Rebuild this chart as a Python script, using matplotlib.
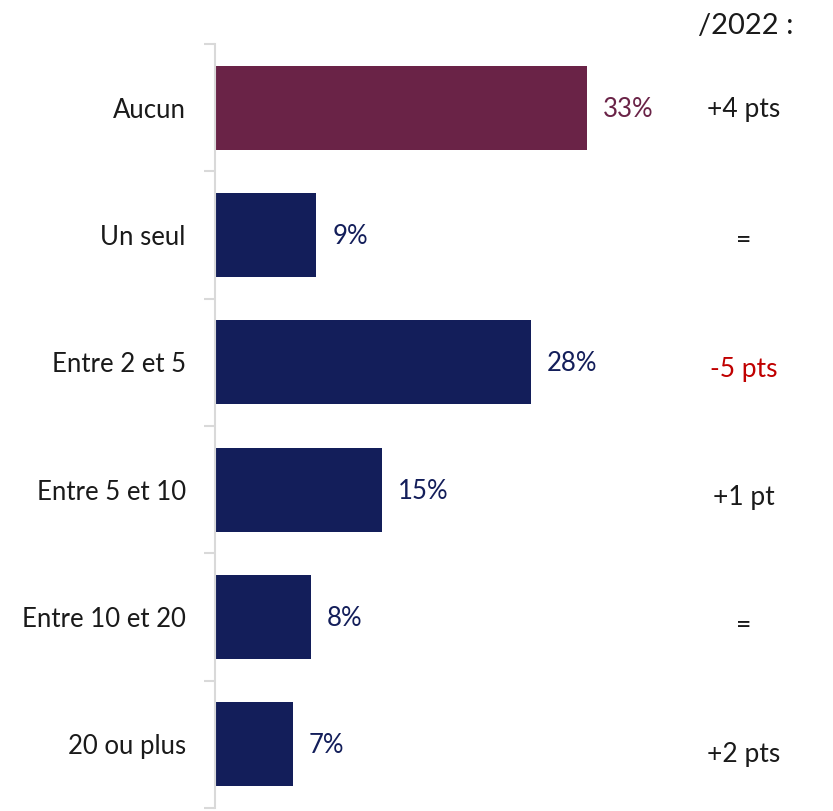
import matplotlib.pyplot as plt
from matplotlib.transforms import blended_transform_factory

categories = ["Aucun", "Un seul", "Entre 2 et 5", "Entre 5 et 10", "Entre 10 et 20", "20 ou plus"]
values = [33, 9, 28, 14.8, 8.5, 6.9]
changes = ["+4 pts", "=", "-5 pts", "+1 pt", "=", "+2 pts"]
change_colors = ["#1a1a1a", "#1a1a1a", "#C00000", "#1a1a1a", "#1a1a1a", "#1a1a1a"]
# small vertical shifts of the right column, as in the original slide
change_offsets = [0.016, 0.04, 0.055, 0.063, 0.063, 0.08]

purple = "#6A2347"
navy = "#131E5A"
bar_colors = [purple] + [navy] * 5

plt.rcParams['font.family'] = ['Lato', 'DejaVu Sans']

fig = plt.figure(figsize=(8.33, 8.11), dpi=100)
ax = fig.add_axes([215 / 833, 3 / 811, 563.6 / 833, 764 / 811])

y = list(range(len(categories)))
ax.barh(y, values, height=0.66, color=bar_colors)
ax.set_xlim(0, 50)
ax.set_ylim(len(categories) - 0.5, -0.5)

for i, v in enumerate(values):
    ax.text(v + 1.4, i + 0.012, f"{round(v)}%", va="center", ha="left", fontsize=18.5,
            color=bar_colors[i])

ax.set_yticks([i - 0.5 for i in range(len(categories) + 1)], minor=False)
ax.set_yticklabels([])
ax.set_yticks(y, minor=True)
ax.set_yticklabels(categories, minor=True, fontsize=18.5, color="#1a1a1a")
ax.tick_params(axis="y", which="major", length=8, width=1.5, color="#d9d9d9")
ax.tick_params(axis="y", which="minor", length=0, pad=21)
ax.set_xticks([])

for s in ["top", "right", "bottom"]:
    ax.spines[s].set_visible(False)
ax.spines["left"].set_color("#d9d9d9")
ax.spines["left"].set_linewidth(1.5)

tr = blended_transform_factory(fig.transFigure, ax.transData)
for i, c in enumerate(changes):
    ax.text(744 / 833, i + change_offsets[i], c, transform=tr, ha="center", va="center",
            fontsize=19, color=change_colors[i])
fig.text(746 / 833, 1 - 26 / 811, "/2022 :", ha="center", va="center",
         fontsize=21, color="#1a1a1a")

fig.savefig("out.png", dpi=100)
